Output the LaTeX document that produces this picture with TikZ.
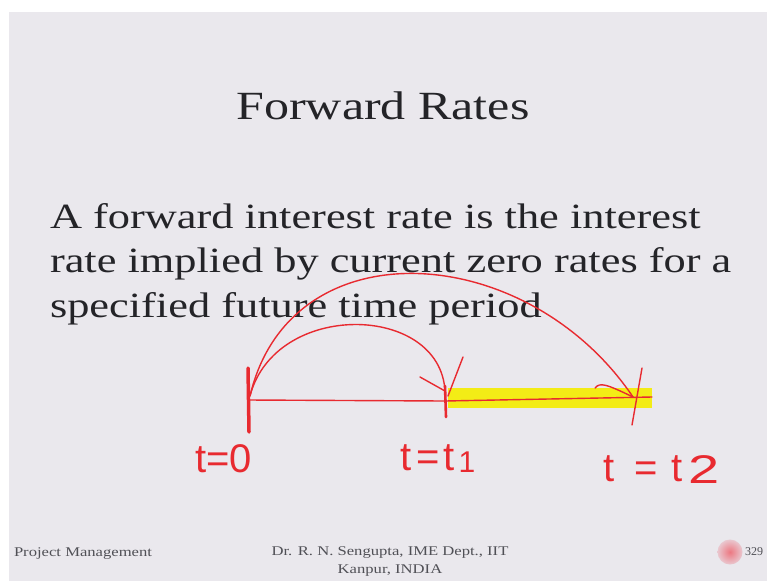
\documentclass[tikz,border=0pt]{standalone}
\usepackage{fontspec}
\setmainfont{Liberation Serif}
\newfontfamily\handfont{Liberation Sans}
\usetikzlibrary{positioning}

\definecolor{slidegray}{RGB}{234,232,237}
\definecolor{inkgray}{RGB}{36,36,40}
\definecolor{penred}{RGB}{232,42,48}
\definecolor{marker}{RGB}{243,236,22}
\definecolor{footgray}{RGB}{80,80,86}
\definecolor{badge}{RGB}{232,150,162}

\begin{document}
\begin{tikzpicture}[x=1pt, y=-1pt,
  every node/.style={inner sep=0pt, outer sep=0pt},
  slidetext/.style={text=inkgray, xscale=1.25, anchor=base west, font=\fontsize{35.5}{40}\selectfont},
  pen/.style={draw=penred, line width=1.4pt, line cap=round, line join=round},
  handlabel/.style={text=penred, anchor=base west, font=\handfont\fontsize{40}{44}\selectfont},
  foot/.style={text=footgray, xscale=1.25, font=\fontsize{13.3}{18}\selectfont}]
  \def\axisy{398} \def\hlh{20}
  \useasboundingbox (0,0) rectangle (767,581);
  \fill[white] (0,0) rectangle (767,581);
  \fill[slidegray] (9,12) rectangle (767,581);

  % slide text
  \node[text=inkgray, xscale=1.25, anchor=base, font=\fontsize{40}{44}\selectfont] (title) at (383,119) {Forward Rates};
  \node[slidetext] (line1) at (50,228) {A forward interest rate is the interest};
  \node[slidetext] (line2) at (50,272.5) {rate implied by current zero rates for a};
  \node[slidetext] (line3) at (50,317) {specified future time period};

  % time points
  \coordinate (t0) at (250,396);
  \coordinate (t1) at (445,391);
  \coordinate (t2) at (633,397);

  % highlighted forward period
  \draw[marker, line width=\hlh pt] (448,\axisy) -- (652,\axisy);

  % time line and ticks
  \draw[pen] (248,400) -- (445,401) -- (652,397);
  \draw[pen, line width=3.5pt] (248,368) -- (249,432);
  \draw[pen, line width=2.6pt] (445,386) -- (446,417);
  \draw[pen] (463,357) -- (448,396);
  \draw[pen] (642,368) -- (632,425);

  % zero-rate arcs
  \draw[pen] (t0) .. controls (275,300) and (440,303) .. (t1);
  \draw[pen] (420,377) -- (t1);
  \draw[pen] (t0) .. controls (290,225) and (527,240) .. (t2);
  \draw[pen] (595,388) .. controls (600,382) and (606,384) .. (t2);

  \node[handlabel] (lab0) at (195,472) {t=0};
  \node[handlabel] (lab1) at (400,470) {t\hspace{5pt}=\hspace{4pt}t\hspace{4pt}\raisebox{-2pt}{\fontsize{30}{30}\selectfont 1}};
  \node[handlabel] (lab2) at (603,481) {t\hspace{20pt}=\hspace{14pt}t\hspace{6pt}\raisebox{-2pt}{\scalebox{1.4}[1]{2}}};

  % footer
  \node[foot, anchor=base west] (course) at (14,556) {Project Management};
  \node[foot, align=center, anchor=base] (author) at (390,573) {Dr. R. N. Sengupta, IME Dept., IIT\\Kanpur, INDIA};
  \shade[inner color=badge!80!red, outer color=badge!40!slidegray] (730,552) circle (12.5);
  \node[text=footgray, anchor=west, font=\fontsize{12}{14}\selectfont] (slideno) at (745,552) {329};
\end{tikzpicture}
\end{document}
